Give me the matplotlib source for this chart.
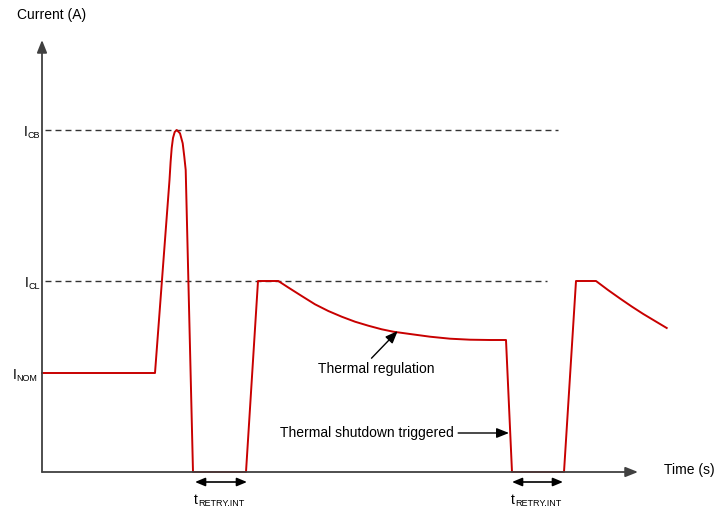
import matplotlib.pyplot as plt

plt.rcParams['font.family'] = ['Liberation Sans', 'DejaVu Sans']

# current levels (arbitrary units)
i_cb = 342
i_cl = 191
i_nom = 99

# current waveform
wave_t = [0, 113, 127.5, 128.6, 129.7, 131, 132.7, 134.7, 138, 140.7, 142.3, 143.7, 151,
          204, 216, 236.3, 246.3, 259.7, 273, 286.3, 299.7, 313, 326.3, 339.7, 351.3,
          368, 388, 408, 428, 448, 464, 470,
          522, 534, 554, 566, 578, 589.7, 601.3, 624.7]
wave_i = [99, 99, 292, 310, 324, 334, 340, 342, 338.7, 328.7, 315.3, 302, 0,
          0, 191, 191, 184.5, 176, 167.7, 161, 155.3, 150.3, 146.3, 142.7, 140.3,
          138, 135.3, 133.3, 132.3, 132, 132, 0,
          0, 191, 191, 182, 173.5, 165.5, 158, 144]

# retry intervals (start, end)
retry = [(153, 205), (470, 521)]

t_max = 596
i_max = 432
red = '#c80000'
axc = '#404040'

fig = plt.figure(figsize=(7.15, 5.08), dpi=100)
ax = fig.add_axes([0, 0, 1, 1])
ax.set_xlim(-42, 673)
ax.set_ylim(-36, 472)
ax.axis('off')


def level_label(x, y, main, sub):
    # right-aligned "I" with a subscript
    s = ax.text(x, y, sub, ha='right', va='baseline', fontsize=6.5)
    ax.annotate(main, xy=(0, 0), xycoords=s, xytext=(-0.2, 0.4),
                textcoords='offset points', ha='right', va='bottom', fontsize=10)


def time_label(x, y, main, sub):
    m = ax.text(x, y, main, ha='left', va='baseline', fontsize=10)
    ax.annotate(sub, xy=(1, 0), xycoords=m, xytext=(0.2, 1.0),
                textcoords='offset points', ha='left', va='baseline', fontsize=6.5)


arrow_head = dict(arrowstyle='-|>,head_length=0.75,head_width=0.3',
                  shrinkA=0, shrinkB=0, mutation_scale=10)

# axes with arrows
ax.annotate('', xy=(0, i_max), xytext=(0, 0), arrowprops=dict(arrow_head, color=axc, lw=1.3))
ax.annotate('', xy=(t_max, 0), xytext=(0, 0), arrowprops=dict(arrow_head, color=axc, lw=1.3))

# dashed limit lines
ax.plot([3, 516], [i_cb, i_cb], color='#333333', lw=1.0, dashes=(4.3, 2.9))
ax.plot([3, 505], [i_cl, i_cl], color='#333333', lw=1.0, dashes=(4.3, 2.9))

ax.plot(wave_t, wave_i, color=red, lw=1.4, solid_joinstyle='round')

# level labels
level_label(-2, 334.3, 'I', 'CB')
level_label(-2, 183.3, 'I', 'CL')
level_label(-4.5, 91.3, 'I', 'NOM')

ax.text(-25, 457, 'Current (A)', ha='left', va='center', fontsize=10)
ax.text(622, 2, 'Time (s)', ha='left', va='center', fontsize=10)

# retry interval arrows
for t0, t1 in retry:
    ax.annotate('', xy=(t1, -10), xytext=(t0, -10),
                arrowprops=dict(arrowstyle='<|-|>,head_length=0.6,head_width=0.25',
                                color='black', lw=1.2, shrinkA=0, shrinkB=0, mutation_scale=10))
    time_label(t0 - 1, -32.5, 't', 'RETRY.INT')

# annotations
ax.annotate('Thermal regulation', xy=(355.7, 141), xytext=(334, 103),
            ha='center', va='center', fontsize=10,
            arrowprops=dict(arrow_head, color='black', lw=1.0, shrinkA=1, relpos=(0.43, 1.0)))
ax.annotate('Thermal shutdown triggered', xy=(467, 39), xytext=(412, 39),
            ha='right', va='center', fontsize=10,
            arrowprops=dict(arrow_head, color='black', lw=1.0, shrinkA=1))

fig.savefig('out.png', dpi=100)
